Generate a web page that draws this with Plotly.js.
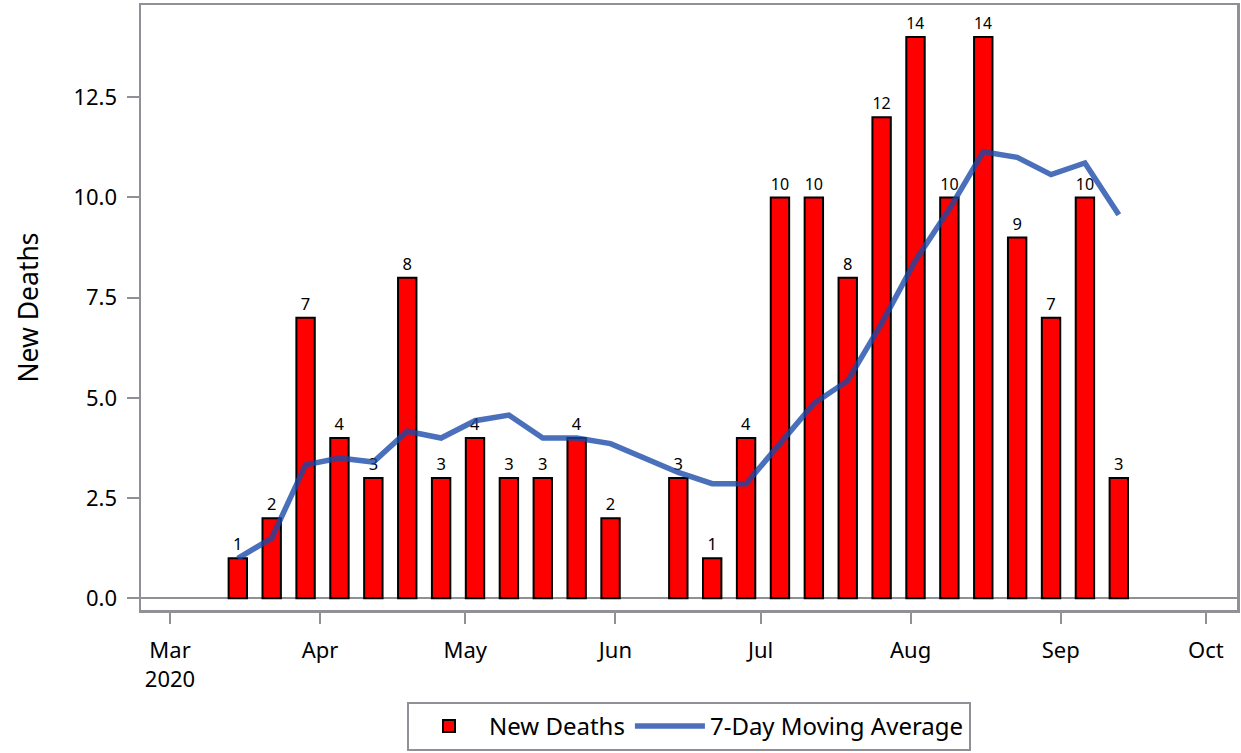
<!DOCTYPE html>
<html>
<head>
<meta charset="utf-8">
<script src="https://cdn.plot.ly/plotly-3.0.1.min.js"></script>
<style>
html,body{margin:0;padding:0;background:#fff;}
#chart{width:1241px;height:753px;}
</style>
</head>
<body>
<div id="chart"></div>
<script>
// Weekly dates (week ending), new deaths, and 7-point moving average
const weeks = ['2020-03-15','2020-03-22','2020-03-29','2020-04-05','2020-04-12','2020-04-19','2020-04-26',
  '2020-05-03','2020-05-10','2020-05-17','2020-05-24','2020-05-31','2020-06-14','2020-06-21','2020-06-28',
  '2020-07-05','2020-07-12','2020-07-19','2020-07-26','2020-08-02','2020-08-09','2020-08-16','2020-08-23',
  '2020-08-30','2020-09-06','2020-09-13'];
const newDeaths = [1,2,7,4,3,8,3,4,3,3,4,2,3,1,4,10,10,8,12,14,10,14,9,7,10,3];
const movingAvg = [1.0,1.5,3.33,3.5,3.4,4.17,4.0,4.43,4.57,4.0,4.0,3.86,3.14,2.86,2.86,
  3.86,4.86,5.43,6.86,8.43,9.71,11.14,11.0,10.57,10.86,9.57];
const tickDates = ['2020-03-01','2020-04-01','2020-05-01','2020-06-01','2020-07-01','2020-08-01','2020-09-01','2020-10-01'];
const tickLabels = ['Mar<br>2020','Apr','May','Jun','Jul','Aug','Sep','Oct'];

const DAY = 86400000;
const FONT = 'Noto Sans, Open Sans, DejaVu Sans, sans-serif';
const GRAY = '#8f9196';

const bars = {
  type: 'bar', name: 'New Deaths', x: weeks, y: newDeaths,
  width: 3.8 * DAY,
  marker: {color: '#ff0000', line: {color: '#000000', width: 2}},
  text: newDeaths.map(String), textposition: 'outside',
  textfont: {family: FONT, size: 16.5, color: '#000'},
  cliponaxis: false, hoverinfo: 'x+y'
};
const line = {
  type: 'scatter', mode: 'lines', name: '7-Day Moving Average', x: weeks, y: movingAvg,
  line: {color: 'rgb(25,72,168)', width: 5.5},
  opacity: 0.78
};

const layout = {
  width: 1241, height: 753,
  margin: {l: 141, r: 4, t: 5, b: 143, autoexpand: false},
  paper_bgcolor: '#fff', plot_bgcolor: '#fff',
  font: {family: FONT, color: '#000', size: 22},
  showlegend: true,
  bargap: 0,
  legend: {orientation: 'h', x: 0.5, xanchor: 'center', y: -0.233, yanchor: 'bottom',
    bordercolor: GRAY, borderwidth: 2, font: {family: FONT, size: 24, color: '#000'},
    traceorder: 'normal', itemwidth: 70},
  xaxis: {
    type: 'date', range: ['2020-02-24', '2020-10-07 10:00'],
    tickvals: tickDates, ticktext: tickLabels, tickmode: 'array',
    ticks: 'outside', ticklen: 11, tickwidth: 2, tickcolor: GRAY,
    showline: true, mirror: true, linecolor: GRAY, linewidth: 2.5,
    showgrid: false, zeroline: false,
    tickfont: {family: FONT, size: 22, color: '#000'},
    ticklabelstandoff: 8
  },
  yaxis: {
    range: [-0.29, 14.8], tickvals: [0, 2.5, 5, 7.5, 10, 12.5],
    ticktext: ['0.0','2.5','5.0','7.5','10.0','12.5'], tickmode: 'array',
    ticks: 'outside', ticklen: 12, tickwidth: 2, tickcolor: GRAY,
    showline: true, mirror: true, linecolor: GRAY, linewidth: 2.5,
    showgrid: false, zeroline: true, zerolinecolor: GRAY, zerolinewidth: 2,
    tickfont: {family: FONT, size: 22, color: '#000'},
    ticklabelstandoff: 5,
    title: {text: 'New Deaths', font: {family: FONT, size: 26.5, color: '#000'}, standoff: 27}
  }
};

Plotly.newPlot('chart', [bars, line], layout, {displayModeBar: false, staticPlot: true});
</script>
</body>
</html>
